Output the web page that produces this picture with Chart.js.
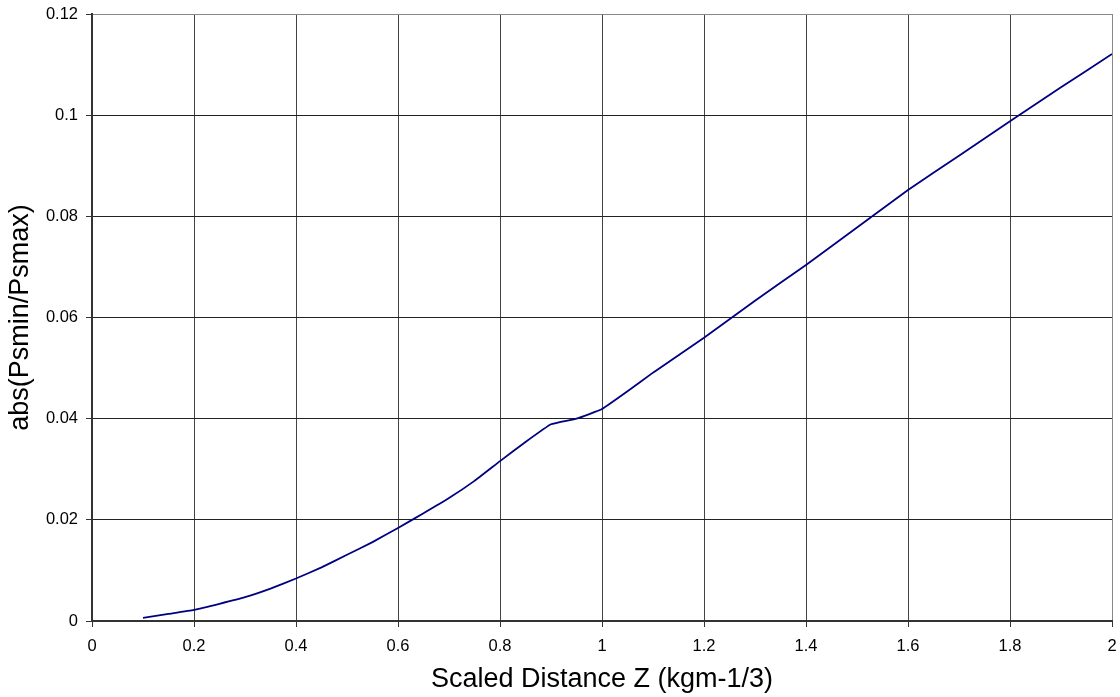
<!DOCTYPE html>
<html>
<head>
<meta charset="utf-8">
<script src="https://cdn.jsdelivr.net/npm/chart.js@4"></script>
<style>
  html, body { margin: 0; padding: 0; background: #fff; }
  #wrap { width: 1120px; height: 697px; }
</style>
</head>
<body>
<div id="wrap"><canvas id="myChart" width="1120" height="697"></canvas></div>
<script>
//data
const zValues = [0.1, 0.15, 0.2, 0.25, 0.3, 0.35, 0.4, 0.45, 0.5, 0.55, 0.6, 0.65, 0.7, 0.75, 0.8, 0.85, 0.9, 0.95, 1.0, 1.05, 1.1, 1.2, 1.3, 1.4, 1.5, 1.6, 1.7, 1.8, 1.9, 2.0];
const ratioValues = [0.0006, 0.0014, 0.0022, 0.0034, 0.0047, 0.0064, 0.0084, 0.0106, 0.0131, 0.0156, 0.0184, 0.0213, 0.0243, 0.0277, 0.0316, 0.0354, 0.0389, 0.0400, 0.0419, 0.0454, 0.0491, 0.0560, 0.0633, 0.0704, 0.0778, 0.0852, 0.0920, 0.0988, 0.1055, 0.1121];

const xTicks = [0, 0.2, 0.4, 0.6, 0.8, 1, 1.2, 1.4, 1.6, 1.8, 2];
const xTickLabels = ["0", "0.2", "0.4", "0.6", "0.8", "1", "1.2", "1.4", "1.6", "1.8", "2"];
const yTicks = [0, 0.02, 0.04, 0.06, 0.08, 0.1, 0.12];
const yTickLabels = ["0", "0.02", "0.04", "0.06", "0.08", "0.1", "0.12"];

const xTitle = "Scaled Distance Z (kgm-1/3)";
const yTitle = "abs(Psmin/Psmax)";

const fontFamily = "'Liberation Sans', Arial, sans-serif";

const points = zValues.map((z, i) => ({ x: z, y: ratioValues[i] }));

//config
const config = {
  type: "line",
  data: {
    datasets: [
      {
        data: points,
        borderColor: "#000080",
        borderWidth: 1.8,
        pointRadius: 0,
        tension: 0.1,
        fill: false,
      },
    ],
  },
  options: {
    responsive: false,
    animation: false,
    layout: { padding: { top: 14, right: 8, left: 0, bottom: 0 } },
    plugins: {
      legend: { display: false },
      tooltip: { enabled: false },
    },
    scales: {
      x: {
        type: "linear",
        min: 0,
        max: 2,
        afterBuildTicks: (scale) => {
          scale.ticks = xTicks.map((v) => ({ value: v }));
        },
        afterFit: (scale) => {
          // pin the plot area to the reference box
          scale.height = 76;
          scale.paddingLeft = 0;
          scale.paddingRight = 0;
        },
        ticks: {
          color: "#000",
          font: { family: fontFamily, size: 16.5 },
          padding: 10,
          maxRotation: 0,
          callback: (value, index) => xTickLabels[index],
        },
        grid: {
          color: (ctx) => (ctx.index === xTicks.length - 1 ? "#888" : "#444"),
          lineWidth: 1,
          tickLength: 6,
          tickColor: "#333",
        },
        border: { color: "#333", width: 2 },
        title: {
          display: true,
          text: xTitle,
          color: "#000",
          font: { family: fontFamily, size: 27, lineHeight: 1.2 },
          padding: { top: 0, bottom: 1 },
        },
      },
      y: {
        type: "linear",
        min: 0,
        max: 0.12,
        afterBuildTicks: (scale) => {
          scale.ticks = yTicks.map((v) => ({ value: v }));
        },
        afterFit: (scale) => {
          scale.width = 92;
          scale.paddingTop = 0;
          scale.paddingBottom = 0;
        },
        ticks: {
          color: "#000",
          font: { family: fontFamily, size: 16.5 },
          padding: 8,
          callback: (value, index) => yTickLabels[index],
        },
        grid: {
          color: (ctx) => (ctx.index === yTicks.length - 1 ? "#888" : "#222"),
          lineWidth: 1,
          tickLength: 6,
          tickColor: "#333",
        },
        border: { color: "#333", width: 2 },
        title: {
          display: true,
          text: yTitle,
          color: "#000",
          font: { family: fontFamily, size: 27, lineHeight: 1.2 },
          padding: { top: 4, bottom: 0 },
        },
      },
    },
  },
};

const myChart = new Chart(document.getElementById("myChart"), config);
</script>
</body>
</html>
